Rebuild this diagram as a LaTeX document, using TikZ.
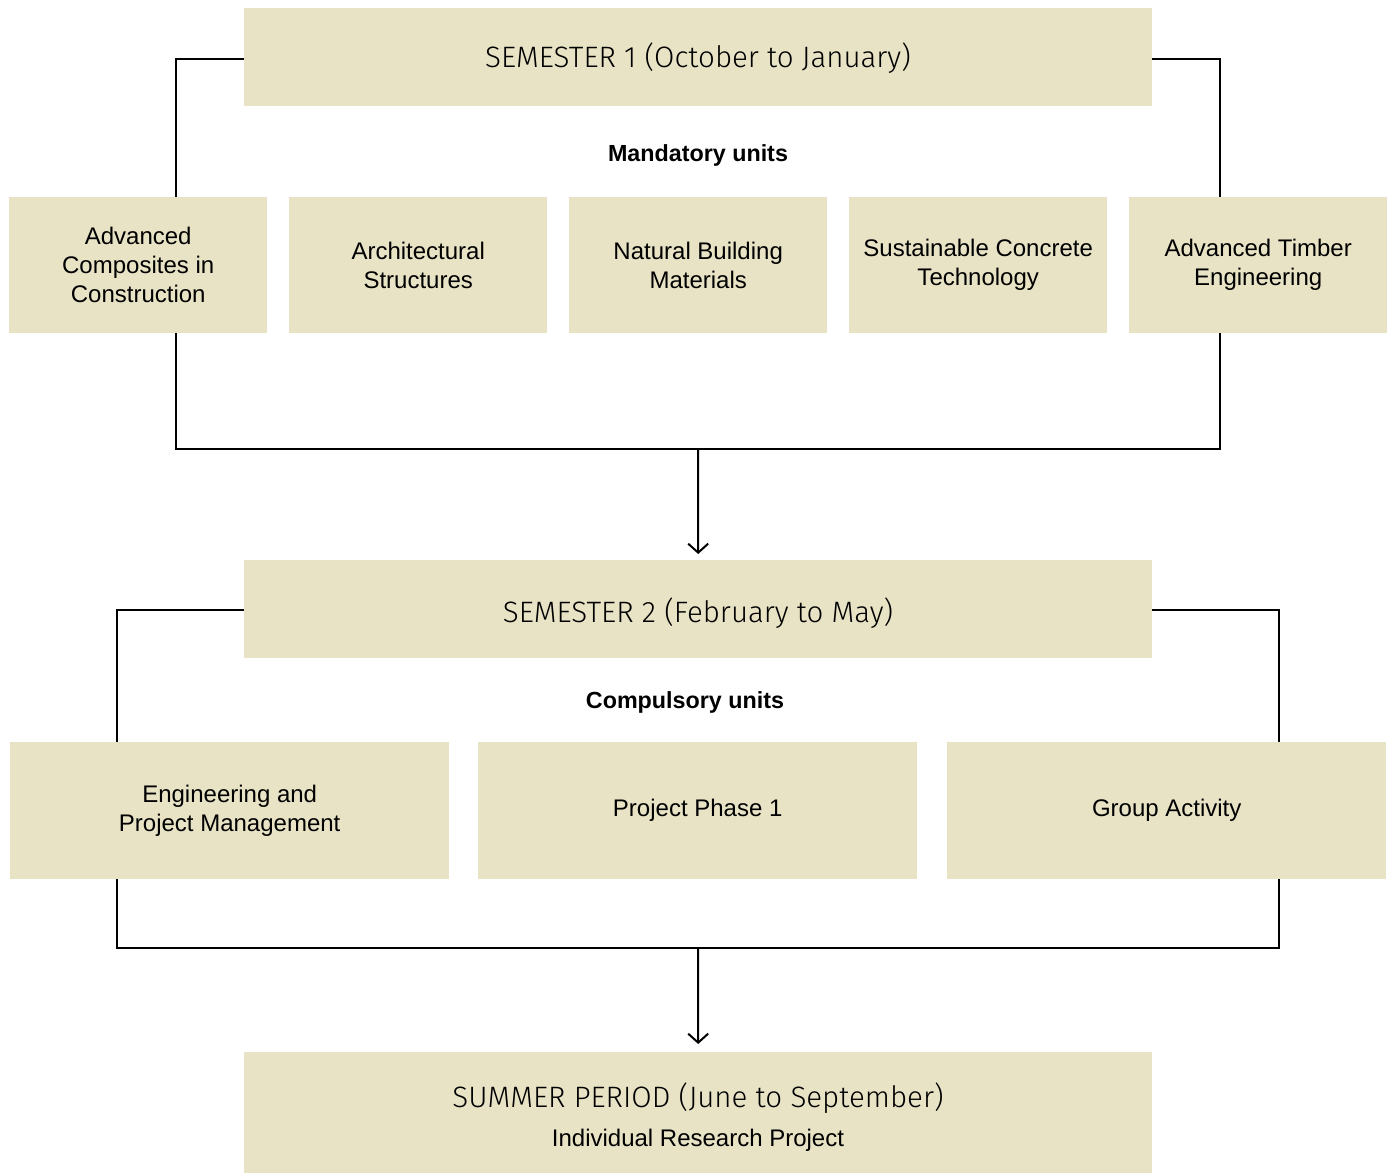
\documentclass[tikz,border=0pt]{standalone}
\usepackage{fontspec}
\setmainfont{Liberation Sans}
\newfontfamily\titlefont{Fira Sans Light}
\usetikzlibrary{arrows.meta,backgrounds}
\definecolor{boxfill}{RGB}{232,227,197}
\tikzset{
  unitbox/.style={fill=boxfill, draw=none, inner sep=0pt, anchor=north west,
    align=center, font=\fontsize{24}{29}\selectfont},
  termbox/.style={fill=boxfill, draw=none, inner sep=0pt, anchor=north west,
    align=center},
  termtitle/.style={font=\titlefont\fontsize{29.5}{34}\selectfont},
  grouplabel/.style={font=\bfseries\fontsize{23.3}{28}\selectfont},
  bracket/.style={line width=2pt, black},
  flow/.style={line width=2pt, black, -{Straight Barb[length=9pt,width=20pt,line width=2pt]}},
}
\begin{document}
\begin{tikzpicture}[x=1pt,y=-1pt]
\useasboundingbox (0,0) rectangle (1390,1173);

% semester 1
\node[termbox, minimum width=908pt, minimum height=98pt] (sem1) at (244,8) {};
\node[termtitle] (sem1t) at (698,58) {SEMESTER 1 (October to January)};
\node[grouplabel] (mand) at (698,155) {Mandatory units};

\node[unitbox, minimum width=258pt, minimum height=136pt] (u1) at (9,197)
  {Advanced\\Composites in\\Construction};
\node[unitbox, minimum width=258pt, minimum height=136pt] (u2) at (289,197)
  {Architectural\\Structures};
\node[unitbox, minimum width=258pt, minimum height=136pt] (u3) at (569,197)
  {Natural Building\\Materials};
\node[unitbox, minimum width=258pt, minimum height=136pt] (u4) at (849,197)
  {Sustainable Concrete\\Technology};
\node[unitbox, minimum width=258pt, minimum height=136pt] (u5) at (1129,197)
  {Advanced Timber\\Engineering};

% semester 2
\node[termbox, minimum width=908pt, minimum height=98pt] (sem2) at (244,560) {};
\node[termtitle] (sem2t) at (698,613) {SEMESTER 2 (February to May)};
\node[grouplabel] (comp) at (685,702) {Compulsory units};

\node[unitbox, minimum width=439pt, minimum height=137pt] (v1) at (10,742)
  {Engineering and\\Project Management};
\node[unitbox, minimum width=439pt, minimum height=137pt] (v2) at (478,742)
  {Project Phase 1};
\node[unitbox, minimum width=439pt, minimum height=137pt] (v3) at (947,742)
  {Group Activity};

% summer period
\node[termbox, minimum width=908pt, minimum height=121pt] (sum) at (244,1052) {};
\node[termtitle] (sumt) at (698,1098) {SUMMER PERIOD (June to September)};
\node[font=\fontsize{24}{29}\selectfont] (sums) at (698,1140) {Individual Research Project};

% brackets grouping each semester's units
\coordinate (a1) at (176,59);
\coordinate (a2) at (176,449);
\coordinate (a3) at (1220,449);
\coordinate (a4) at (1220,59);
\coordinate (am) at (698,449);
\coordinate (b1) at (117,610);
\coordinate (b2) at (117,948);
\coordinate (b3) at (1279,948);
\coordinate (b4) at (1279,610);
\coordinate (bm) at (698,948);

\begin{scope}[on background layer]
  \draw[bracket] (sem1.west |- a1) -- (a1) -- (a2) -- (a3) -- (a4) -- (sem1.east |- a4);
  \draw[bracket] (sem2.west |- b1) -- (b1) -- (b2) -- (b3) -- (b4) -- (sem2.east |- b4);
\end{scope}

\draw[flow, shorten >=6pt] (am) -- (sem2.north);
\draw[flow, shorten >=8pt] (bm) -- (sum.north);
\end{tikzpicture}
\end{document}
